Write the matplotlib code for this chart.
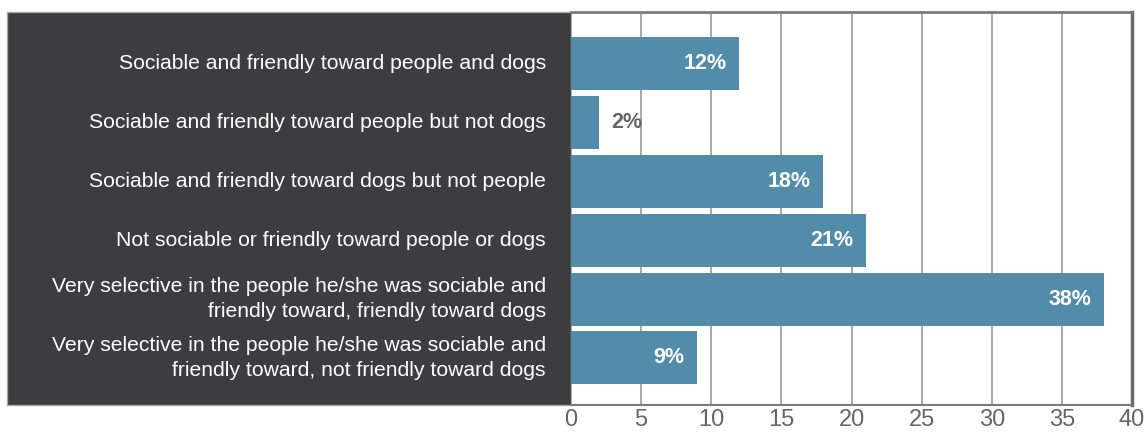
import matplotlib
matplotlib.use("Agg")
import matplotlib.pyplot as plt
from matplotlib.patches import Rectangle

plt.rcParams['font.family'] = ['Liberation Sans', 'DejaVu Sans']

# 行为类别及百分比
categories = [
    "Sociable and friendly toward people and dogs",
    "Sociable and friendly toward people but not dogs",
    "Sociable and friendly toward dogs but not people",
    "Not sociable or friendly toward people or dogs",
    "Very selective in the people he/she was sociable and\nfriendly toward, friendly toward dogs",
    "Very selective in the people he/she was sociable and\nfriendly toward, not friendly toward dogs",
]
values = [12, 2, 18, 21, 38, 9]
xticks = [0, 5, 10, 15, 20, 25, 30, 35, 40]

W, H = 1144, 434
bar_color = '#528ca8'
panel_color = '#3d3d3f'

fig = plt.figure(figsize=(W / 100, H / 100), dpi=100)

# 左侧深色标签区
x_left, x_axis0, x_axis1 = 7, 571, 1132
y_top, y_bot = 12, 405
fig.patches.append(Rectangle((x_left / W, 1 - y_bot / H), (x_axis0 - x_left) / W,
                             (y_bot - y_top) / H, transform=fig.transFigure,
                             facecolor=panel_color, edgecolor='#a8a8a8', lw=1, zorder=0))

ax = fig.add_axes([x_axis0 / W, 1 - y_bot / H, (x_axis1 - x_axis0) / W, (y_bot - y_top) / H])
ax.set_zorder(1)

ypos = list(range(len(values)))
ax.barh(ypos, values, height=0.9, color=bar_color, zorder=2)

for y, v in zip(ypos, values):
    if v >= 5:
        ax.text(v - 0.9, y, f"{v}%", ha='right', va='center', color='white',
                fontsize=15.5, fontweight='bold', zorder=3)
    else:
        ax.text(v + 0.85, y, f"{v}%", ha='left', va='center', color='#666666',
                fontsize=15.5, fontweight='bold', zorder=3)

# 类别标签放在深色区里，右对齐
for y, c in zip(ypos, categories):
    ax.annotate(c, xy=(0, y), xycoords='data', xytext=(-25, 0), textcoords='offset pixels',
                ha='right', va='center', color='white', fontsize=15.2, linespacing=1.45,
                multialignment='right', annotation_clip=False)

ax.set_xlim(0, 40)
ax.set_ylim(5.8, -0.875)
ax.set_xticks(xticks)
ax.set_yticks([])
ax.tick_params(axis='x', length=0, pad=3, labelsize=17, labelcolor='#666666')
ax.xaxis.grid(True, color='#9a9a9a', lw=1.2, zorder=1)
ax.set_axisbelow(True)

ax.spines['left'].set_visible(False)
ax.spines['top'].set_color('#7a7a7a')
ax.spines['top'].set_linewidth(2)
ax.spines['right'].set_color('#6a6a6a')
ax.spines['right'].set_linewidth(2.5)
ax.spines['bottom'].set_color('#7a7a7a')
ax.spines['bottom'].set_linewidth(1.5)

fig.savefig('out.png', dpi=100)
